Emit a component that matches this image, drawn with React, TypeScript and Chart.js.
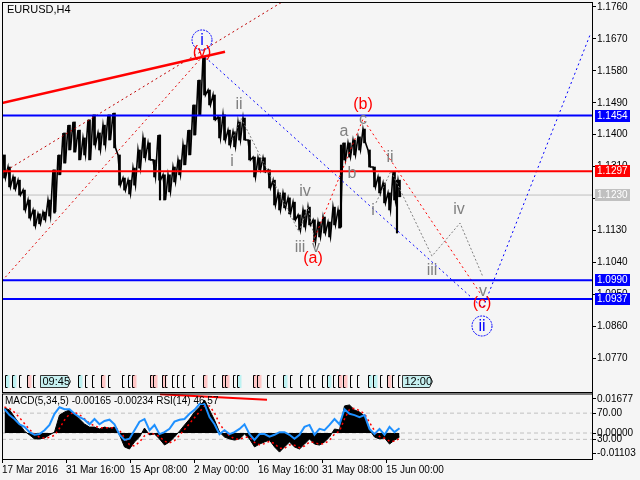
import React, { useEffect, useRef } from "react";
import { Chart, registerables } from "chart.js";

Chart.register(...registerables);

const FONT = "'Liberation Sans', Arial, sans-serif";
const BG = "#f5f5f5";
const SYMBOL = "EURUSD,H4";

// ---- price data: H4 bars grouped by 5 (from 17 Mar 2016 00:00) ----
const BIN = 5;
const HIGH = [
  1.1343, 1.1309, 1.1281, 1.1272, 1.1244, 1.1216, 1.1188, 1.1177, 1.1182, 1.1216,
  1.1301, 1.1343, 1.1405, 1.1427, 1.1436, 1.1413, 1.1391, 1.1442, 1.1456, 1.1405,
  1.1427, 1.1456, 1.1461, 1.1343, 1.1278, 1.1272, 1.1306, 1.1357, 1.1391, 1.1377,
  1.1329, 1.1399, 1.1287, 1.1287, 1.1309, 1.1329, 1.1371, 1.1413, 1.1484, 1.1554,
  1.1619, 1.1526, 1.1512, 1.1450, 1.1456, 1.1413, 1.1408, 1.1436, 1.1447, 1.1385,
  1.1337, 1.1335, 1.1335, 1.1301, 1.1272, 1.1236, 1.1236, 1.1222, 1.1210, 1.1174,
  1.1188, 1.1196, 1.1160, 1.1154, 1.1168, 1.1154, 1.1196, 1.1188, 1.1377, 1.1377,
  1.1385, 1.1394, 1.1416, 1.1357, 1.1309, 1.1281, 1.1264, 1.1236, 1.1295, 1.1272,
];
const LOW = [
  1.1278, 1.1253, 1.1247, 1.1230, 1.1188, 1.1165, 1.1143, 1.1149, 1.1160, 1.1171,
  1.1182, 1.1287, 1.1320, 1.1357, 1.1351, 1.1329, 1.1343, 1.1329, 1.1371, 1.1357,
  1.1371, 1.1385, 1.1363, 1.1258, 1.1244, 1.1233, 1.1258, 1.1306, 1.1335, 1.1329,
  1.1281, 1.1272, 1.1216, 1.1239, 1.1267, 1.1287, 1.1315, 1.1343, 1.1399, 1.1456,
  1.1512, 1.1484, 1.1442, 1.1391, 1.1385, 1.1371, 1.1366, 1.1385, 1.1385, 1.1329,
  1.1281, 1.1301, 1.1295, 1.1250, 1.1202, 1.1188, 1.1194, 1.1177, 1.1160, 1.1132,
  1.1140, 1.1146, 1.1098, 1.1112, 1.1123, 1.1112, 1.1146, 1.1137, 1.1329, 1.1337,
  1.1343, 1.1357, 1.1377, 1.1309, 1.1253, 1.1236, 1.1208, 1.1188, 1.1216, 1.1225,
];
// single long candles
const SPIKE_BAR = [52.5, 158, 339, 395];
const SPIKE_HIGH = [1.1295, 1.1399, 1.1371, 1.1272];
const SPIKE_LOW = [1.1179, 1.1216, 1.114, 1.1123];

const X_MAX = 590;
const PRICE_MIN = 1.0675;
const PRICE_MAX = 1.1774;
const PRICE_TICKS = [1.176, 1.167, 1.158, 1.149, 1.14, 1.131, 1.122, 1.113, 1.104, 1.095, 1.086, 1.077];

const LEVEL_PRICE = [1.1454, 1.1297, 1.123, 1.099, 1.0937];
const LEVEL_COLOR = ["#0000ff", "#ff0000", "#c0c0c0", "#0000ff", "#0000ff"];
const LEVEL_WIDTH = [2, 2, 1, 2, 2];

const TREND_X = [0, 223];
const TREND_P = [1.1489, 1.1634];
const FAN1_X = [0, 283];
const FAN1_P = [1.1292, 1.1779];
const FAN2_X = [0, 201];
const FAN2_P = [1.0988, 1.1622];
const WAVE_BLUE_X = [203, 481, 588];
const WAVE_BLUE_P = [1.1619, 1.0912, 1.1681];
const WAVE_RED_X = [311, 361, 478];
const WAVE_RED_P = [1.1098, 1.1444, 1.0954];
const WAVE_GRAY1_X = [230, 239, 297, 306, 313];
const WAVE_GRAY1_P = [1.1385, 1.1447, 1.1126, 1.1196, 1.1098];
const WAVE_GRAY2_X = [374, 389, 430, 458, 481];
const WAVE_GRAY2_P = [1.1208, 1.1298, 1.1058, 1.1151, 1.0999];

const WAVE_TEXT = ["i", "(v)", "ii", "i", "iv", "iii", "v", "(a)", "(b)", "a", "b", "c", "ii", "i", "iv", "iii", "v", "(c)", "ii"];
const WAVE_X = [200, 200, 237, 230, 303, 298, 314, 311, 361, 342, 350, 361, 388, 371, 457, 430, 481, 480, 480];
const WAVE_P = [1.1667, 1.1633, 1.1487, 1.1326, 1.1242, 1.1084, 1.1084, 1.1053, 1.1487, 1.1413, 1.1292, 1.1445, 1.1337, 1.1188, 1.1191, 1.1019, 1.096, 1.0926, 1.0861];
const WAVE_KIND = ["circle", "red", "gray", "gray", "gray", "gray", "gray", "red", "red", "gray", "gray", "gray", "gray", "gray", "gray", "gray", "gray", "red", "circle"];

const EVENT_X = [3, 10, 17, 25, 31, 76, 83, 90, 99, 106, 120, 126, 130, 148, 151, 160, 163, 170, 175, 181, 190, 201, 211, 220, 223, 231, 235, 251, 255, 265, 271, 281, 288, 298, 306, 311, 320, 325, 331, 336, 341, 348, 355, 366, 371, 378, 385, 390, 396];
const EVENT_KIND = [1, 1, 0, 2, 0, 1, 0, 0, 2, 0, 0, 0, 2, 2, 2, 2, 0, 0, 0, 0, 0, 2, 0, 2, 2, 0, 1, 2, 2, 0, 0, 1, 0, 0, 0, 0, 0, 1, 0, 2, 2, 0, 0, 1, 1, 0, 2, 0, 0];
const TIME_BOX_X = [38, 400];
const TIME_BOX_TEXT = ["09:45", "12:00"];

const DATE_BARS = [0, 64, 128, 192, 256, 320, 384];
const DATE_LABELS = ["17 Mar 2016", "31 Mar 16:00", "15 Apr 08:00", "2 May 00:00", "16 May 16:00", "31 May 08:00", "15 Jun 00:00"];

// ---- indicator window (per 5 bars) ----
const MACD = [
  0.0106, 0.0098, 0.0068, 0.0038, 0.0008, -0.0008, -0.0025, -0.0025, -0.0021, -0.0008,
  0.0004, 0.0076, 0.0089, 0.0098, 0.0081, 0.0059, 0.0038, 0.0025, 0.0025, 0.0017,
  0.0025, 0.0021, 0.0025, -0.0008, -0.0059, -0.0068, -0.0038, -0.0017, 0.0021, -0.0008,
  -0.0004, -0.0025, -0.0051, -0.0038, -0.0017, 0.0008, 0.0034, 0.0059, 0.0089, 0.011,
  0.014, 0.0098, 0.0055, 0.0004, -0.0017, -0.0025, -0.003, -0.0025, -0.0004, -0.0025,
  -0.0059, -0.0047, -0.0038, -0.003, -0.0059, -0.0081, -0.0059, -0.0038, -0.0059, -0.0068,
  -0.0047, -0.0025, -0.0047, -0.0051, -0.0038, -0.0017, 0.0017, 0.0013, 0.0115, 0.0119,
  0.0098, 0.0089, 0.0072, 0.0013, -0.0017, -0.0025, -0.0021, -0.0047, -0.003, -0.0017,
];
const SIGNAL = [
  0.011, 0.0104, 0.0088, 0.0065, 0.004, 0.0015, -0.0005, -0.0018, -0.0022, -0.0018,
  -0.001, 0.002, 0.0055, 0.008, 0.0088, 0.0078, 0.006, 0.0042, 0.003, 0.0023,
  0.0022, 0.0022, 0.0023, 0.0012, -0.002, -0.005, -0.0055, -0.0038, -0.0012, 0.0,
  -0.0005, -0.0015, -0.0035, -0.0042, -0.0032, -0.001, 0.0015, 0.004, 0.0065, 0.009,
  0.0115, 0.0115, 0.0085, 0.004, 0.001, -0.0012, -0.0025, -0.0027, -0.0018, -0.0018,
  -0.004, -0.005, -0.0045, -0.0035, -0.0045, -0.0065, -0.0065, -0.005, -0.0052, -0.0062,
  -0.0055, -0.0038, -0.004, -0.0048, -0.0045, -0.003, -0.0005, 0.0008, 0.006, 0.01,
  0.0105, 0.0095, 0.0082, 0.0045, 0.001, -0.0015, -0.0022, -0.0035, -0.0035, -0.0023,
];
const RSI = [
  76, 67, 61, 53, 49, 41, 37, 38, 44, 52,
  69, 79, 76, 76, 69, 64, 60, 53, 61, 53,
  58, 60, 53, 37, 29, 31, 44, 57, 61, 44,
  52, 38, 41, 46, 57, 60, 61, 69, 75, 84,
  84, 64, 53, 38, 44, 38, 41, 46, 53, 38,
  29, 38, 38, 34, 37, 41, 41, 37, 31, 37,
  49, 52, 37, 46, 44, 52, 61, 53, 76, 69,
  67, 64, 67, 46, 38, 46, 37, 49, 41, 47,
];
const MACD_MIN = -0.01103;
const MACD_MAX = 0.01677;
const SUB_TICK_VALUES = [0.01444, 0.00843, 0, -0.00269, -0.00861];
const SUB_TICK_TEXT = ["0.01677", "70.00", "0.00000", "30.00", "-0.01103"];
const RSI_LEVELS = [70, 30];
const SUB_TREND_X = [158, 265];
const SUB_TREND_V = [0.0165, 0.0141];
const SUB_TITLE = "MACD(5,34,5) -0.00165 -0.00234 RSI(14) 46.57";

const line = (xs: number[], ys: number[], color: string, width: number, dash: number[], order: number, yAxisID = "y") => ({
  type: "line",
  data: xs.map((x, i) => ({ x, y: ys[i] })),
  borderColor: color,
  borderWidth: width,
  borderDash: dash,
  pointRadius: 0,
  fill: false,
  tension: 0,
  order,
  yAxisID,
});

const mainOverlay = {
  id: "mainOverlay",
  afterDatasetsDraw(chart: any) {
    const { ctx, chartArea: a, scales } = chart;
    const xs = scales.x;
    const ys = scales.y;
    ctx.save();
    const top = a.bottom - 17;
    const bot = a.bottom - 4;
    EVENT_X.forEach((v, i) => {
      const px = Math.round(xs.getPixelForValue(v)) + 0.5;
      const k = EVENT_KIND[i];
      if (k) {
        ctx.fillStyle = k === 1 ? "#bdf2f2" : "#ffc6c6";
        ctx.fillRect(px, top, 4, bot - top);
      }
      ctx.strokeStyle = "#000";
      ctx.lineWidth = 1;
      ctx.beginPath();
      ctx.moveTo(px + 2, top + 0.5);
      ctx.lineTo(px, top + 0.5);
      ctx.lineTo(px, bot - 0.5);
      ctx.lineTo(px + 2, bot - 0.5);
      ctx.stroke();
    });
    TIME_BOX_X.forEach((v, i) => {
      const px = Math.round(xs.getPixelForValue(v)) + 0.5;
      const w = 27;
      ctx.beginPath();
      ctx.moveTo(px, top + 0.5);
      ctx.lineTo(px + w, top + 0.5);
      ctx.lineTo(px + w + 3, (top + bot) / 2);
      ctx.lineTo(px + w, bot - 0.5);
      ctx.lineTo(px, bot - 0.5);
      ctx.closePath();
      ctx.fillStyle = "#c6f0f0";
      ctx.fill();
      ctx.strokeStyle = "#333";
      ctx.stroke();
      ctx.fillStyle = "#000";
      ctx.font = `11px ${FONT}`;
      ctx.textAlign = "left";
      ctx.textBaseline = "middle";
      ctx.fillText(TIME_BOX_TEXT[i], px + 2, (top + bot) / 2 + 0.5);
    });
    ctx.textAlign = "center";
    ctx.textBaseline = "middle";
    WAVE_TEXT.forEach((t, i) => {
      const px = xs.getPixelForValue(WAVE_X[i]);
      const py = ys.getPixelForValue(WAVE_P[i]);
      const kind = WAVE_KIND[i];
      ctx.font = `16px ${FONT}`;
      if (kind === "circle") {
        ctx.setLineDash([2, 1]);
        ctx.strokeStyle = "#0000ff";
        ctx.lineWidth = 1;
        ctx.beginPath();
        ctx.arc(px, py, 10, 0, Math.PI * 2);
        ctx.stroke();
        ctx.setLineDash([]);
        ctx.fillStyle = "#0000ff";
      } else {
        ctx.fillStyle = kind === "red" ? "#ff0000" : "#808080";
      }
      ctx.fillText(t, px, py + 1);
    });
    ctx.restore();
  },
  afterDraw(chart: any) {
    const { ctx, chartArea: a, scales } = chart;
    const ys = scales.y;
    ctx.save();
    ctx.strokeStyle = "#000";
    ctx.lineWidth = 1;
    ctx.strokeRect(a.left + 0.5, a.top + 0.5, a.right - a.left, a.bottom - a.top);
    ctx.font = `10px ${FONT}`;
    ctx.textAlign = "left";
    ctx.textBaseline = "middle";
    LEVEL_PRICE.forEach((p, i) => {
      const py = Math.round(ys.getPixelForValue(p));
      ctx.fillStyle = LEVEL_COLOR[i];
      ctx.fillRect(a.right + 3, py - 6, 35, 12);
      ctx.fillStyle = "#fff";
      ctx.fillText(p.toFixed(4), a.right + 5, py + 0.5);
    });
    ctx.fillStyle = "#000";
    ctx.font = `11px ${FONT}`;
    ctx.fillText(SYMBOL, a.left + 5, a.top + 8);
    ctx.restore();
  },
};

const subOverlay = {
  id: "subOverlay",
  afterDraw(chart: any) {
    const { ctx, chartArea: a } = chart;
    ctx.save();
    ctx.strokeStyle = "#000";
    ctx.lineWidth = 1;
    ctx.strokeRect(a.left + 0.5, a.top + 0.5, a.right - a.left, a.bottom - a.top);
    ctx.font = `10px ${FONT}`;
    ctx.fillStyle = "#000";
    ctx.textAlign = "left";
    ctx.textBaseline = "middle";
    ctx.fillText(SUB_TITLE, a.left + 3, a.top + 8);
    ctx.restore();
  },
};

function mainConfig(): any {
  const binX = (i: number) => i * BIN + BIN / 2;
  // zig-zag through each group's high then low, to mimic dense 1px candles
  const zig: { x: number; y: number }[] = [];
  HIGH.forEach((h, i) => {
    zig.push({ x: i * BIN + 1, y: h });
    zig.push({ x: i * BIN + 3.5, y: LOW[i] });
  });
  return {
    type: "line",
    data: {
      datasets: [
        {
          type: "bar",
          data: HIGH.map((h, i) => ({ x: binX(i), y: [LOW[i], h] })),
          backgroundColor: "#000",
          borderWidth: 0,
          barThickness: 2,
          grouped: false,
          order: 10,
        },
        {
          type: "line",
          data: zig,
          borderColor: "#000",
          borderWidth: 1.6,
          pointRadius: 0,
          tension: 0,
          fill: false,
          order: 10,
        },
        {
          type: "bar",
          data: SPIKE_BAR.map((b, i) => ({ x: b, y: [SPIKE_LOW[i], SPIKE_HIGH[i]] })),
          backgroundColor: "#000",
          borderWidth: 0,
          barThickness: 1.5,
          grouped: false,
          order: 9,
        },
        ...LEVEL_PRICE.map((p, i) =>
          line([0, X_MAX], [p, p], LEVEL_COLOR[i], LEVEL_WIDTH[i], [], i === 2 ? 11 : 2)
        ),
        line(TREND_X, TREND_P, "#ff0000", 2.5, [], 3),
        line(FAN1_X, FAN1_P, "#c00000", 1, [2, 3], 4),
        line(FAN2_X, FAN2_P, "#e00000", 1, [2, 3], 4),
        line(WAVE_BLUE_X, WAVE_BLUE_P, "#0000ff", 1, [2, 3], 4),
        line(WAVE_RED_X, WAVE_RED_P, "#ff0000", 1, [2, 3], 4),
        line(WAVE_GRAY1_X, WAVE_GRAY1_P, "#808080", 1, [2, 2], 4),
        line(WAVE_GRAY2_X, WAVE_GRAY2_P, "#808080", 1, [2, 2], 4),
      ],
    },
    options: {
      animation: false,
      responsive: false,
      events: [],
      layout: { padding: { left: 2, top: 2, right: 0, bottom: 1 } },
      plugins: { legend: { display: false }, tooltip: { enabled: false } },
      scales: {
        x: { type: "linear", min: 0, max: X_MAX, display: false, offset: false },
        y: {
          position: "right",
          min: PRICE_MIN,
          max: PRICE_MAX,
          afterBuildTicks: (s: any) => {
            s.ticks = PRICE_TICKS.map((v) => ({ value: v }));
          },
          afterFit: (s: any) => {
            s.width = 48;
            s.paddingTop = 0;
            s.paddingBottom = 0;
          },
          ticks: {
            color: "#000",
            font: { size: 10, family: FONT },
            padding: 1,
            autoSkip: false,
            callback: (v: any) => Number(v).toFixed(4),
          },
          grid: { drawOnChartArea: false, tickLength: 4, color: "#000" },
          border: { color: "#000" },
        },
      },
    },
    plugins: [mainOverlay],
  };
}

function subConfig(): any {
  const binX = (i: number) => i * BIN + BIN / 2;
  return {
    type: "line",
    data: {
      datasets: [
        line([0, X_MAX], [0, 0], "#c0c0c0", 1, [4, 3], 6, "yM"),
        ...RSI_LEVELS.map((l) => line([0, X_MAX], [l, l], "#c0c0c0", 1, [4, 3], 6, "yR")),
        {
          type: "line",
          data: MACD.map((v, i) => ({ x: binX(i), y: v })),
          yAxisID: "yM",
          borderColor: "#000",
          backgroundColor: "#000",
          borderWidth: 1,
          pointRadius: 0,
          tension: 0,
          fill: "origin",
          order: 4,
        },
        line(MACD.map((_, i) => binX(i)), SIGNAL, "#ff0000", 1.5, [2, 3], 3, "yM"),
        line(RSI.map((_, i) => binX(i)), RSI, "#1e90ff", 2, [], 2, "yR"),
        line(SUB_TREND_X, SUB_TREND_V, "#ff0000", 2, [], 1, "yM"),
      ],
    },
    options: {
      animation: false,
      responsive: false,
      events: [],
      layout: { padding: { left: 2, top: 1.5, right: 0, bottom: 0 } },
      plugins: { legend: { display: false }, tooltip: { enabled: false } },
      scales: {
        x: {
          type: "linear",
          min: 0,
          max: X_MAX,
          offset: false,
          afterBuildTicks: (s: any) => {
            s.ticks = DATE_BARS.map((v) => ({ value: v }));
          },
          afterFit: (s: any) => {
            s.height = 21;
            s.paddingLeft = 0;
            s.paddingRight = 0;
          },
          ticks: {
            color: "#000",
            font: { size: 10, family: FONT },
            padding: 1,
            autoSkip: false,
            maxRotation: 0,
            align: "start",
            callback: (_v: any, i: number) => DATE_LABELS[i],
          },
          grid: { drawOnChartArea: false, tickLength: 4, color: "#000" },
          border: { color: "#000" },
        },
        yM: {
          position: "right",
          min: MACD_MIN,
          max: MACD_MAX,
          afterBuildTicks: (s: any) => {
            s.ticks = SUB_TICK_VALUES.map((v) => ({ value: v }));
          },
          afterFit: (s: any) => {
            s.width = 48;
            s.paddingTop = 0;
            s.paddingBottom = 0;
          },
          ticks: {
            color: "#000",
            font: { size: 10, family: FONT },
            padding: 1,
            autoSkip: false,
            callback: (_v: any, i: number) => SUB_TICK_TEXT[i],
          },
          grid: { drawOnChartArea: false, tickLength: 4, color: "#000" },
          border: { color: "#000" },
        },
        yR: { display: false, min: 0, max: 100 },
      },
    },
    plugins: [subOverlay],
  };
}

export default function App() {
  const mainRef = useRef<HTMLCanvasElement>(null);
  const subRef = useRef<HTMLCanvasElement>(null);
  useEffect(() => {
    document.body.style.margin = "0";
    document.body.style.background = BG;
    const main = new Chart(mainRef.current as HTMLCanvasElement, mainConfig());
    const sub = new Chart(subRef.current as HTMLCanvasElement, subConfig());
    return () => {
      main.destroy();
      sub.destroy();
    };
  }, []);
  return (
    <div style={{ position: "relative", width: 640, height: 480, background: BG, overflow: "hidden" }}>
      <canvas ref={mainRef} width={640} height={393} style={{ position: "absolute", left: 0, top: 0 }} />
      <canvas ref={subRef} width={640} height={88} style={{ position: "absolute", left: 0, top: 392 }} />
    </div>
  );
}
